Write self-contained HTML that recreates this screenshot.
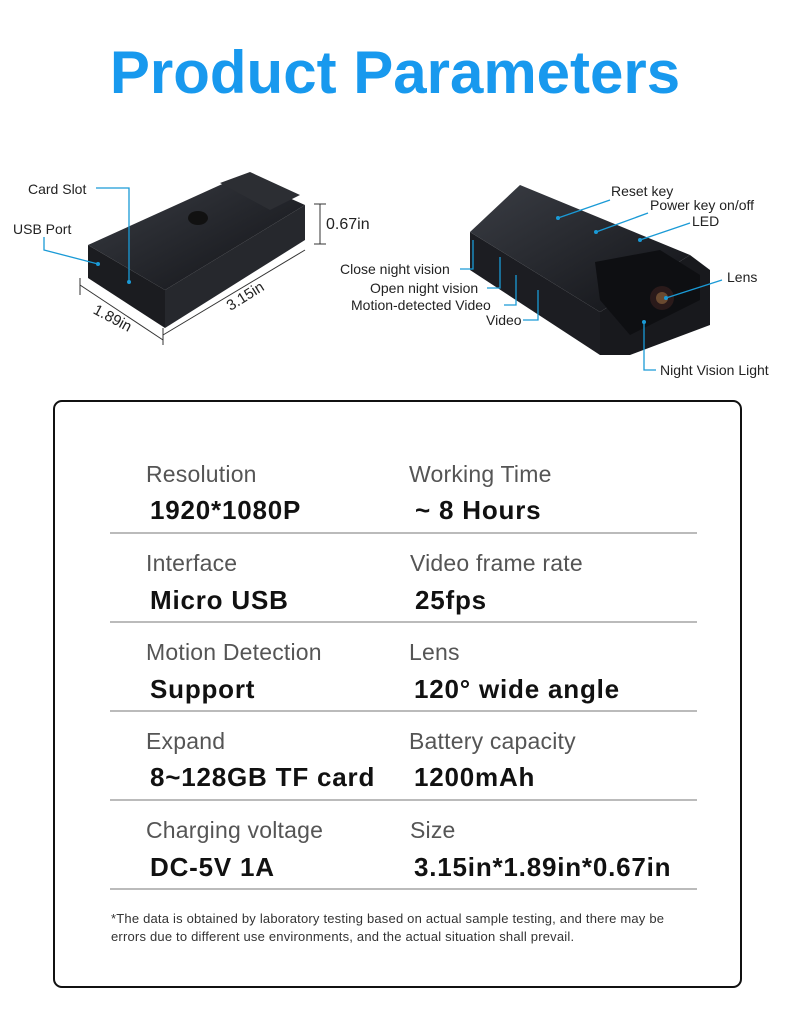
<!DOCTYPE html>
<html><head><meta charset="utf-8"><style>
*{margin:0;padding:0;box-sizing:border-box}
body{width:790px;height:1020px;background:#fff;position:relative;overflow:hidden;font-family:"Liberation Sans",Arial,sans-serif}
.a{position:absolute;white-space:nowrap}
h1{position:absolute;left:0;width:790px;top:38px;text-align:center;color:#1899ee;font-size:60px;font-weight:bold;letter-spacing:0}
.box{position:absolute;left:53px;top:400px;width:689px;height:588px;border:2px solid #111;border-radius:9px}
.lab{font-size:23px;color:#555;letter-spacing:0.2px}
.val{font-size:26px;color:#111;font-weight:bold;letter-spacing:0.8px}
.ln{position:absolute;left:110px;width:587px;height:1.5px;background:#bbb}
.sm{font-size:14px;color:#222;letter-spacing:0}
</style></head><body>
<h1>Product Parameters</h1>

<svg class="a" style="left:0;top:150px" width="790" height="240" viewBox="0 150 790 240">
<defs>
<linearGradient id="g1" x1="0" y1="0" x2="1" y2="1"><stop offset="0" stop-color="#3a3d44"/><stop offset="1" stop-color="#111216"/></linearGradient>
</defs>
<polygon points="88,245 165,290 165,328 88,278" fill="#1b1c20"/>
<polygon points="165,290 305,205 305,240 165,328" fill="#26282d"/>
<polygon points="88,245 240,176 305,205 165,290" fill="url(#g1)"/>
<polygon points="220,183 250,172 300,195 270,210" fill="#2c2e33"/>
<ellipse cx="198" cy="218" rx="10" ry="7" fill="#111"/>
<line x1="163" y1="335" x2="305" y2="250" stroke="#333"/>
<line x1="163" y1="328" x2="163" y2="345" stroke="#333"/>
<line x1="80" y1="285" x2="163" y2="340" stroke="#333"/>
<line x1="80" y1="278" x2="80" y2="295" stroke="#333"/>
<line x1="320" y1="204" x2="320" y2="244" stroke="#333"/>
<line x1="314" y1="204" x2="326" y2="204" stroke="#333"/>
<line x1="314" y1="244" x2="326" y2="244" stroke="#333"/>
<polyline points="96,188 129,188 129,282" fill="none" stroke="#1a9ad6" stroke-width="1.3"/>
<circle cx="129" cy="282" r="2" fill="#1a9ad6"/>
<polyline points="44,237 44,250 98,264" fill="none" stroke="#1a9ad6" stroke-width="1.3"/>
<circle cx="98" cy="264" r="2" fill="#1a9ad6"/>
<polygon points="470,232 600,312 600,355 470,270" fill="#1c1d22"/>
<polygon points="470,232 520,185 690,255 600,312" fill="url(#g1)"/>
<polygon points="600,312 690,255 710,270 710,325 630,355 600,355" fill="#18191d"/>
<polygon points="595,262 660,250 700,275 700,300 630,335 600,300" fill="#0e0f12"/>
<circle cx="662" cy="298" r="12" fill="#2a1a1a"/>
<circle cx="662" cy="298" r="6" fill="#6a4a30"/>
<g fill="none" stroke="#1a9ad6" stroke-width="1.3">
<line x1="558" y1="218" x2="610" y2="200"/>
<line x1="596" y1="232" x2="648" y2="213"/>
<line x1="640" y1="240" x2="690" y2="223"/>
<polyline points="460,269 473,269 473,240"/>
<polyline points="487,288 500,288 500,257"/>
<polyline points="504,305 516,305 516,275"/>
<polyline points="523,320 538,320 538,290"/>
<line x1="666" y1="298" x2="722" y2="280"/>
<polyline points="644,322 644,370 656,370"/>
</g>
<g fill="#1a9ad6"><circle cx="558" cy="218" r="2"/><circle cx="596" cy="232" r="2"/><circle cx="640" cy="240" r="2"/><circle cx="666" cy="298" r="2"/><circle cx="644" cy="322" r="2"/></g>
</svg>
<div class="a sm" style="left:28px;top:181px">Card Slot</div>
<div class="a sm" style="left:13px;top:221px">USB Port</div>
<div class="a" style="left:326px;top:216px;font-size:16px;color:#222">0.67in</div>
<div class="a sm" style="left:225px;top:288px;transform:rotate(-32deg);font-size:15px">3.15in</div>
<div class="a sm" style="left:92px;top:310px;transform:rotate(28deg);font-size:15px">1.89in</div>
<div class="a sm" style="left:611px;top:183px">Reset key</div>
<div class="a sm" style="left:650px;top:197px">Power key on/off</div>
<div class="a sm" style="left:692px;top:213px">LED</div>
<div class="a sm" style="left:340px;top:261px">Close night vision</div>
<div class="a sm" style="left:370px;top:280px">Open night vision</div>
<div class="a sm" style="left:351px;top:297px">Motion-detected Video</div>
<div class="a sm" style="left:486px;top:312px">Video</div>
<div class="a sm" style="left:727px;top:269px">Lens</div>
<div class="a sm" style="left:660px;top:362px">Night Vision Light</div>

<div class="box"></div>
<div class="a lab" style="left:146px;top:461px">Resolution</div>
<div class="a lab" style="left:409px;top:461px">Working Time</div>
<div class="a val" style="left:150px;top:495px">1920*1080P</div>
<div class="a val" style="left:415px;top:495px">~ 8 Hours</div>
<div class="ln" style="top:532px"></div>
<div class="a lab" style="left:146px;top:550px">Interface</div>
<div class="a lab" style="left:410px;top:550px">Video frame rate</div>
<div class="a val" style="left:150px;top:585px">Micro USB</div>
<div class="a val" style="left:415px;top:585px">25fps</div>
<div class="ln" style="top:621px"></div>
<div class="a lab" style="left:146px;top:639px">Motion Detection</div>
<div class="a lab" style="left:409px;top:639px">Lens</div>
<div class="a val" style="left:150px;top:674px">Support</div>
<div class="a val" style="left:414px;top:674px">120° wide angle</div>
<div class="ln" style="top:710px"></div>
<div class="a lab" style="left:146px;top:728px">Expand</div>
<div class="a lab" style="left:409px;top:728px">Battery capacity</div>
<div class="a val" style="left:150px;top:762px">8~128GB TF card</div>
<div class="a val" style="left:414px;top:762px">1200mAh</div>
<div class="ln" style="top:799px"></div>
<div class="a lab" style="left:146px;top:817px">Charging voltage</div>
<div class="a lab" style="left:410px;top:817px">Size</div>
<div class="a val" style="left:150px;top:852px">DC-5V 1A</div>
<div class="a val" style="left:414px;top:852px">3.15in*1.89in*0.67in</div>
<div class="ln" style="top:888px"></div>
<div class="a" style="left:111px;top:910px;font-size:13px;color:#333;line-height:18px;letter-spacing:0.2px">*The data is obtained by laboratory testing based on actual sample testing, and there may be<br>errors due to different use environments, and the actual situation shall prevail.</div>
</body></html>
